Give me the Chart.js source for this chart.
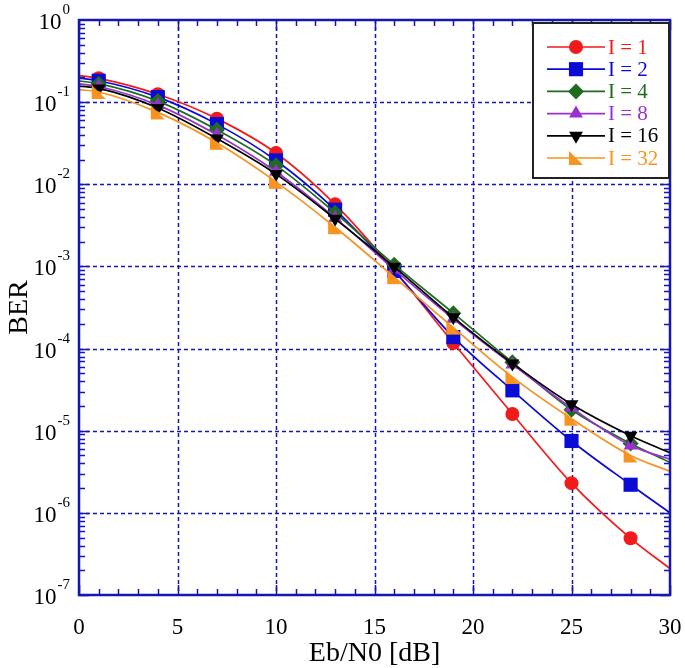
<!DOCTYPE html>
<html>
<head>
<meta charset="utf-8">
<script src="https://cdn.jsdelivr.net/npm/chart.js@4.4.0/dist/chart.umd.min.js"></script>
<style>
  body { margin: 0; background: #fff; }
  #berChart { display: block; }
</style>
</head>
<body>
<canvas id="berChart" width="685" height="668"></canvas>
<script>
// Eb/N0 points; markers sit on 1,4,...,28, the curves run on to 0 and 30
const ebn0 = [0, 1, 4, 7, 10, 13, 16, 19, 22, 25, 28, 30];

const ber_i1  = [0.21, 0.195, 0.125, 0.063, 0.024, 0.0057, 0.00090, 1.17e-4, 1.6e-5, 2.3e-6, 4.9e-7, 2.1e-7];
const ber_i2  = [0.196, 0.182, 0.115, 0.054, 0.0195, 0.0049, 0.00088, 1.38e-4, 3.1e-5, 7.5e-6, 2.2e-6, 1.0e-6];
const ber_i4  = [0.181, 0.168, 0.103, 0.046, 0.0170, 0.0045, 0.00105, 2.7e-4, 6.8e-5, 1.8e-5, 7.0e-6, 4.1e-6];
const ber_i8  = [0.167, 0.155, 0.092, 0.040, 0.0142, 0.0039, 0.00092, 2.3e-4, 6.4e-5, 1.9e-5, 6.6e-6, 4.5e-6];
const ber_i16 = [0.157, 0.147, 0.085, 0.036, 0.0133, 0.0038, 0.00099, 2.4e-4, 6.6e-5, 2.1e-5, 8.7e-6, 5.4e-6];
const ber_i32 = [0.142, 0.133, 0.075, 0.032, 0.0107, 0.0030, 0.00074, 1.8e-4, 4.5e-5, 1.4e-5, 5.0e-6, 3.2e-6];

const series_labels = ['I = 1', 'I = 2', 'I = 4', 'I = 8', 'I = 16', 'I = 32'];
const x_ticks = [0, 5, 10, 15, 20, 25, 30];
const y_exps = [0, -1, -2, -3, -4, -5, -6, -7];

const AXIS_BLUE = '#1616b0';
const SERIF = '"Liberation Serif", "DejaVu Serif", serif';

// orange marker is a right triangle, no built-in style for it
function rightTriangle(color) {
  const c = document.createElement('canvas');
  c.width = 16; c.height = 16;
  const g = c.getContext('2d');
  g.fillStyle = color;
  g.beginPath();
  g.moveTo(1, 1);
  g.lineTo(1, 15);
  g.lineTo(15, 15);
  g.closePath();
  g.fill();
  return c;
}

const styles = [
  { color: '#f21a1a', point: 'circle', radius: 7, rot: 0 },
  { color: '#0b0bd6', point: 'rect', radius: 10, rot: 0 },
  { color: '#1f6b1f', point: 'rectRot', radius: 8, rot: 0 },
  { color: '#9b30d0', point: 'triangle', radius: 8, rot: 0 },
  { color: '#000000', point: 'triangle', radius: 8, rot: 180 },
  { color: '#f7931e', point: rightTriangle('#f7931e'), radius: 8, rot: 0 }
];

const allSeries = [ber_i1, ber_i2, ber_i4, ber_i8, ber_i16, ber_i32];

const datasets = allSeries.map(function(vals, i) {
  const s = styles[i];
  return {
    label: series_labels[i],
    data: ebn0.map(function(x, k) { return { x: x, y: vals[k] }; }),
    borderColor: s.color,
    backgroundColor: s.color,
    borderWidth: 1.7,
    pointStyle: s.point,
    pointRotation: s.rot,
    pointBorderWidth: 0,
    pointRadius: function(ctx) {
      const x = ebn0[ctx.dataIndex];
      return (x === 0 || x === 30) ? 0 : s.radius;
    },
    cubicInterpolationMode: 'monotone',
    order: 5 - i
  };
});

const frame = {
  id: 'frame',
  beforeDatasetsDraw(chart) {
    const ctx = chart.ctx, a = chart.chartArea;
    const xs = chart.scales.x, ys = chart.scales.y;
    ctx.save();
    ctx.strokeStyle = AXIS_BLUE;
    ctx.lineWidth = 1.5;
    ctx.setLineDash([4, 3]);
    x_ticks.forEach(function(v) {
      if (v === 0 || v === 30) return;
      const px = Math.round(xs.getPixelForValue(v)) + 0.5;
      ctx.beginPath(); ctx.moveTo(px, a.top); ctx.lineTo(px, a.bottom); ctx.stroke();
    });
    y_exps.forEach(function(e) {
      if (e === 0 || e === -7) return;
      const py = Math.round(ys.getPixelForValue(Math.pow(10, e))) + 0.5;
      ctx.beginPath(); ctx.moveTo(a.left, py); ctx.lineTo(a.right, py); ctx.stroke();
    });
    ctx.restore();
  },
  afterDraw(chart) {
    const ctx = chart.ctx, a = chart.chartArea;
    const xs = chart.scales.x, ys = chart.scales.y;
    ctx.save();
    ctx.strokeStyle = AXIS_BLUE;
    ctx.lineWidth = 1.5;
    // minor ticks, inside the frame
    ctx.beginPath();
    for (let v = 0; v <= 30; v++) {
      const px = Math.round(xs.getPixelForValue(v)) + 0.5;
      const len = v % 5 === 0 ? 10 : 6;
      ctx.moveTo(px, a.bottom); ctx.lineTo(px, a.bottom - len);
      ctx.moveTo(px, a.top); ctx.lineTo(px, a.top + len);
    }
    for (let e = -7; e < 0; e++) {
      for (let m = 1; m <= 9; m++) {
        const py = Math.round(ys.getPixelForValue(m * Math.pow(10, e))) + 0.5;
        const len = m === 1 ? 10 : 6;
        ctx.moveTo(a.left, py); ctx.lineTo(a.left + len, py);
        ctx.moveTo(a.right, py); ctx.lineTo(a.right - len, py);
      }
    }
    ctx.stroke();
    ctx.lineWidth = 2.5;
    ctx.strokeRect(a.left, a.top, a.right - a.left, a.bottom - a.top);

    // tick labels
    ctx.fillStyle = '#000';
    ctx.font = '23px ' + SERIF;
    ctx.textAlign = 'center';
    ctx.textBaseline = 'middle';
    x_ticks.forEach(function(v) {
      ctx.fillText(String(v), xs.getPixelForValue(v), 628);
    });
    ctx.textBaseline = 'alphabetic';
    ctx.textAlign = 'left';
    y_exps.forEach(function(e) {
      const py = ys.getPixelForValue(Math.pow(10, e));
      const exp = String(e);
      ctx.font = '15px ' + SERIF;
      const ew = ctx.measureText(exp).width;
      ctx.fillText(exp, 70 - ew, py - 6);
      ctx.font = '23px ' + SERIF;
      const bw = ctx.measureText('10').width;
      ctx.fillText('10', 70 - ew - bw - 1, py + 9);
    });

    // axis titles
    ctx.font = '28px ' + SERIF;
    ctx.textAlign = 'center';
    ctx.textBaseline = 'middle';
    ctx.fillText('Eb/N0 [dB]', (a.left + a.right) / 2, 654);
    ctx.translate(20, (a.top + a.bottom) / 2);
    ctx.rotate(-Math.PI / 2);
    ctx.fillText('BER', 0, 0);
    ctx.restore();

    // legend box
    ctx.save();
    ctx.fillStyle = '#fff';
    ctx.fillRect(533, 23, 136, 155);
    ctx.strokeStyle = '#222';
    ctx.lineWidth = 2;
    ctx.strokeRect(533, 23, 136, 155);
    ctx.font = '21px ' + SERIF;
    ctx.textAlign = 'left';
    ctx.textBaseline = 'middle';
    chart.data.datasets.forEach(function(ds, i) {
      const y = 47 + i * 22.2;
      const s = styles[i];
      ctx.strokeStyle = s.color;
      ctx.fillStyle = s.color;
      ctx.lineWidth = 1.7;
      ctx.beginPath(); ctx.moveTo(547, y); ctx.lineTo(605, y); ctx.stroke();
      Chart.helpers.drawPoint(ctx, {
        pointStyle: s.point, radius: s.radius, rotation: s.rot, borderWidth: 0
      }, 576, y);
      ctx.fillStyle = s.color;
      ctx.fillText(ds.label, 608, y + 1);
    });
    ctx.restore();
  }
};

new Chart(document.getElementById('berChart'), {
  type: 'line',
  data: { datasets: datasets },
  options: {
    responsive: false,
    animation: false,
    layout: { padding: { left: 79, right: 15, top: 20, bottom: 73 } },
    plugins: { legend: { display: false }, tooltip: { enabled: false } },
    scales: {
      x: { type: 'linear', min: 0, max: 30, display: false },
      y: { type: 'logarithmic', min: 1e-7, max: 1, display: false }
    }
  },
  plugins: [frame]
});
</script>
</body>
</html>
